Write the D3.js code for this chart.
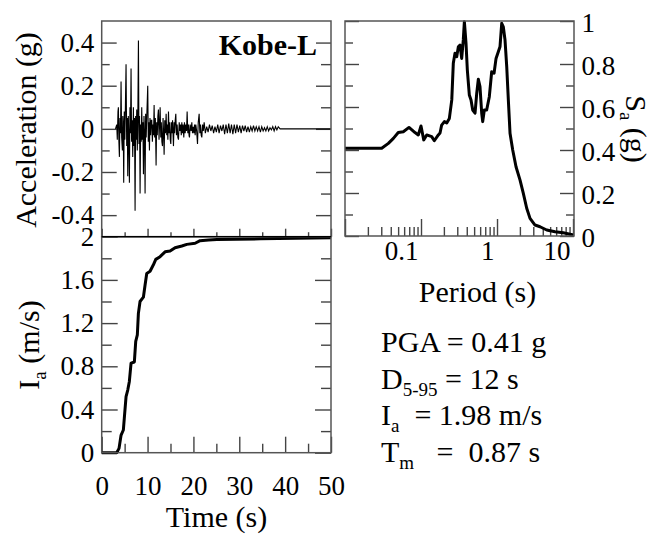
<!DOCTYPE html>
<html>
<head>
<meta charset="utf-8">
<script src="https://cdn.jsdelivr.net/npm/d3@7"></script>
<style>
  body { margin: 0; background: #fff; }
  text { font-family: 'Liberation Serif', 'Times New Roman', serif; fill: #000; }
</style>
</head>
<body>
<div class="vis-container"></div>
<script>
// acceleration time history [time (s), acc (g)]
const accSeries = [
  [3.0, 0], [3.28, 0.02], [3.40, -0.05], [3.55, 0.08], [3.64, 0.10], [3.75, -0.06], [3.86, -0.13],
  [3.98, 0.05], [4.10, -0.02], [4.22, 0.22], [4.35, -0.04], [4.51, -0.10], [4.60, 0.06], [4.70, 0.02],
  [4.80, -0.25], [4.92, 0.08], [5.05, -0.05], [5.18, 0.12], [5.31, 0.30], [5.45, -0.08], [5.58, 0.05],
  [5.68, -0.22], [5.80, 0.06], [5.92, -0.03], [6.04, -0.25], [6.16, 0.10], [6.28, -0.02], [6.40, 0.28],
  [6.52, -0.06], [6.65, 0.04], [6.77, -0.13], [6.91, 0.10], [7.03, -0.08], [7.15, 0.05], [7.28, -0.38],
  [7.40, 0.06], [7.52, -0.05], [7.64, 0.09], [7.76, -0.10], [7.88, 0.05], [8.01, 0.41], [8.13, -0.07],
  [8.25, 0.06], [8.37, -0.30], [8.50, 0.02], [8.62, -0.06], [8.73, 0.10], [8.85, -0.05], [8.98, 0.03],
  [9.10, -0.21], [9.22, 0.06], [9.34, -0.02], [9.46, -0.30], [9.58, 0.07], [9.70, -0.04], [9.82, 0.05],
  [10.04, 0.20], [10.16, -0.06], [10.28, 0.03], [10.41, -0.10], [10.53, 0.05], [10.66, -0.03],
  [10.80, 0.04], [10.92, 0.04], [11.05, -0.06], [11.18, 0.02], [11.30, -0.03], [11.43, 0.11],
  [11.55, -0.04], [11.70, 0.05], [11.86, -0.17], [11.98, 0.03], [12.12, -0.03], [12.25, 0.06],
  [12.37, 0.09], [12.50, -0.05], [12.62, 0.02], [12.74, 0.10], [12.88, -0.04], [13.00, 0.03],
  [13.12, -0.06], [13.25, -0.08], [13.38, 0.05], [13.50, -0.02], [13.61, -0.12], [13.75, 0.04],
  [13.90, -0.02], [14.05, 0.07], [14.18, -0.03], [14.30, 0.02], [14.43, -0.05], [14.56, 0.08],
  [14.70, -0.02], [14.82, 0.03], [14.95, -0.05], [15.07, -0.07], [15.20, 0.03], [15.32, -0.02],
  [15.45, 0.04], [15.65, -0.08], [15.78, 0.03], [15.90, -0.02], [16.03, 0.04], [16.16, 0.07],
  [16.30, -0.03], [16.45, 0.02], [16.60, -0.04], [16.74, -0.05], [16.90, 0.03], [17.05, -0.01],
  [17.20, 0.02], [17.35, -0.03], [17.47, 0.03], [17.62, -0.02], [17.75, 0.02], [17.90, -0.04],
  [18.05, 0.03], [18.20, -0.02], [18.35, 0.02], [18.50, -0.01], [18.63, 0.08], [18.78, -0.02],
  [18.92, 0.02], [19.05, -0.03], [19.14, -0.04], [19.30, 0.02], [19.50, -0.01], [19.65, 0.03],
  [19.80, -0.02], [19.95, 0.01], [20.10, -0.02], [20.25, 0.02], [20.38, -0.03], [20.52, 0.02],
  [20.70, -0.01], [20.89, -0.07], [21.05, 0.03], [21.25, 0.07], [21.40, -0.02], [21.55, 0.02],
  [21.70, -0.03], [21.83, -0.04], [22.00, 0.02], [22.15, -0.01], [22.34, 0.03], [22.6, -0.02],
  [22.9, 0.01], [23.2, -0.015], [23.5, 0.02], [23.8, -0.01], [24.1, 0.015], [24.4, -0.02],
  [24.7, 0.01], [25.0, -0.015], [25.3, 0.02], [25.6, -0.02], [25.9, 0.015], [26.2, -0.01],
  [26.5, 0.02], [26.8, -0.025], [27.1, 0.02], [27.4, -0.02], [27.7, 0.025], [28.0, -0.02],
  [28.3, 0.02], [28.6, -0.025], [28.9, 0.02], [29.2, -0.02], [29.5, 0.02], [29.8, -0.015],
  [30.1, 0.015], [30.4, -0.02], [30.7, 0.015], [31.0, -0.01], [31.3, 0.015], [31.6, -0.015],
  [31.9, 0.01], [32.2, -0.015], [32.5, 0.01], [32.8, -0.01], [33.1, 0.015], [33.4, -0.01],
  [33.7, 0.01], [34.0, -0.01], [34.3, 0.01], [34.6, -0.015], [34.9, 0.01], [35.2, -0.01],
  [35.5, 0.005], [35.8, -0.01], [36.1, 0.01], [36.4, -0.01], [36.7, 0.005], [37.0, -0.005],
  [37.3, 0.01], [37.6, -0.01], [37.9, 0.01], [38.2, -0.005], [38.5, 0.01], [38.9, 0], [50, 0]
];

// arias intensity [time (s), Ia (m/s)]
const ariasSeries = [
  [0, 0], [3.27, 0], [3.78, 0.04], [4.21, 0.16], [4.72, 0.21], [4.93, 0.32], [5.31, 0.52],
  [5.68, 0.58], [6.03, 0.66], [6.40, 0.83], [7.12, 0.84], [7.42, 1.03], [7.77, 1.09], [8.0, 1.29],
  [8.36, 1.40], [9.09, 1.44], [9.45, 1.55], [9.82, 1.66], [10.55, 1.68], [11.27, 1.74], [11.79, 1.79],
  [12.73, 1.815], [13.82, 1.86], [14.91, 1.867], [16.0, 1.898], [17.47, 1.914], [18.56, 1.929],
  [20.37, 1.939], [21.46, 1.963], [23.3, 1.969], [25.1, 1.975], [34.6, 1.98], [50, 1.99]
];

// response spectrum [period (s), Sa (g)]
const spectrumSeries = [
  [0.01, 0.408], [0.0304, 0.408], [0.0372, 0.431], [0.0433, 0.454], [0.0502, 0.481], [0.0585, 0.485],
  [0.0695, 0.505], [0.0834, 0.481], [0.0921, 0.470], [0.1, 0.512], [0.1086, 0.447], [0.1189, 0.470],
  [0.1383, 0.462], [0.1496, 0.443], [0.169, 0.470], [0.178, 0.479], [0.187, 0.516], [0.203, 0.532],
  [0.218, 0.526], [0.236, 0.547], [0.254, 0.633], [0.266, 0.803], [0.280, 0.850], [0.295, 0.834],
  [0.310, 0.880], [0.326, 0.888], [0.343, 0.826], [0.360, 0.912], [0.372, 0.997], [0.391, 0.896],
  [0.407, 0.772], [0.432, 0.656], [0.455, 0.633], [0.479, 0.586], [0.514, 0.571], [0.541, 0.664],
  [0.568, 0.729], [0.597, 0.695], [0.629, 0.571], [0.648, 0.532], [0.681, 0.586], [0.731, 0.586],
  [0.792, 0.648], [0.851, 0.764], [0.914, 0.757], [0.971, 0.826], [1.04, 0.857], [1.094, 0.880],
  [1.153, 0.989], [1.21, 0.973], [1.274, 0.912], [1.342, 0.788], [1.409, 0.633], [1.483, 0.478],
  [1.609, 0.400], [1.778, 0.322], [2.009, 0.260], [2.219, 0.198], [2.459, 0.129], [2.718, 0.082],
  [3.162, 0.051], [3.68, 0.043], [4.51, 0.028], [5.80, 0.020], [7.45, 0.015], [10.1, 0.005]
];

const timeMajor = [0, 10, 20, 30, 40, 50];
const timeMinor = [5, 15, 25, 35, 45];
const accMajor = [-0.4, -0.2, 0, 0.2, 0.4];
const accMinor = [-0.3, -0.1, 0.1, 0.3];
const iaMajor = [0, 0.4, 0.8, 1.2, 1.6, 2];
const iaMinor = [0.2, 0.6, 1.0, 1.4, 1.8];
const saMajor = [0, 0.2, 0.4, 0.6, 0.8, 1];
const saMinor = [0.1, 0.3, 0.5, 0.7, 0.9];
const periodMajor = [0.01, 0.1, 1, 10];
const periodMinor = [0.02, 0.03, 0.04, 0.05, 0.06, 0.07, 0.08, 0.09,
  0.2, 0.3, 0.4, 0.5, 0.6, 0.7, 0.8, 0.9, 2, 3, 4, 5, 6, 7, 8, 9];
const periodLabels = [0.1, 1, 10];

const infoLines = [
  {main: 'PGA = 0.41 g', sub: '', rest: ''},
  {main: 'D', sub: '5-95', rest: ' = 12 s'},
  {main: 'I', sub: 'a', rest: '  = 1.98 m/s'},
  {main: 'T', sub: 'm', rest: '   =  0.87 s'}
];

document.addEventListener('DOMContentLoaded', () => {
  buildFigure();
});

function buildFigure() {
  const width = 654;
  const height = 536;
  const svg = d3.select('.vis-container').append('svg')
    .attr('width', width)
    .attr('height', height);

  const left = 101.7, right = 331, top = 21, mid = 236.7, bottom = 452.7;
  const sLeft = 345, sRight = 574, sTop = 21, sBottom = 236;

  const xTime = d3.scaleLinear().domain([0, 50]).range([left, right]);
  const yAcc = d3.scaleLinear().domain([-0.5, 0.5]).range([mid, top]);
  const yIa = d3.scaleLinear().domain([0, 2]).range([bottom, mid]);
  const xPer = d3.scaleLog().domain([0.01, 10.3]).range([sLeft, sRight]);
  const ySa = d3.scaleLinear().domain([0, 1]).range([sBottom, sTop]);

  function ticks(axisFn, scale, values, len, tx, ty) {
    const g = svg.append('g')
      .attr('transform', `translate(${tx}, ${ty})`)
      .call(axisFn(scale).tickValues(values).tickSize(-len).tickFormat(''));
    g.select('.domain').remove();
    g.selectAll('line').attr('stroke', '#444').attr('stroke-width', 1.4);
    return g;
  }

  function labels(axisFn, scale, values, pad, tx, ty) {
    const g = svg.append('g')
      .attr('transform', `translate(${tx}, ${ty})`)
      .call(axisFn(scale).tickValues(values).tickSize(0).tickPadding(pad).tickFormat(d => String(d)));
    g.select('.domain').remove();
    g.attr('font-size', 27).attr('font-family', "'Liberation Serif', 'Times New Roman', serif");
    g.selectAll('text').attr('fill', '#000');
    return g;
  }

  // ---- top left: acceleration ----
  ticks(d3.axisLeft, yAcc, accMajor, 15, left, 0);
  ticks(d3.axisLeft, yAcc, accMinor, 8, left, 0);
  ticks(d3.axisRight, yAcc, accMajor, 15, right, 0);
  ticks(d3.axisRight, yAcc, accMinor, 10, right, 0);
  ticks(d3.axisBottom, xTime, timeMajor, 8, 0, mid);
  ticks(d3.axisBottom, xTime, timeMinor, 4.5, 0, mid);
  labels(d3.axisLeft, yAcc, accMajor, 7.5, left, 0);

  const accLine = d3.line().x(d => xTime(d[0])).y(d => yAcc(d[1]));
  svg.append('path')
    .datum(accSeries)
    .attr('d', accLine)
    .attr('fill', 'none')
    .attr('stroke', '#000')
    .attr('stroke-width', 1.1);

  svg.append('rect')
    .attr('x', left).attr('y', top)
    .attr('width', right - left).attr('height', mid - top)
    .attr('fill', 'none').attr('stroke', '#555').attr('stroke-width', 1.5);

  svg.append('text')
    .attr('x', 317).attr('y', 55)
    .attr('text-anchor', 'end')
    .attr('font-size', 30)
    .attr('font-weight', 'bold')
    .text('Kobe-L');

  svg.append('text')
    .attr('transform', 'translate(36, 130) rotate(-90)')
    .attr('text-anchor', 'middle')
    .attr('font-size', 30)
    .text('Acceleration (g)');

  // ---- bottom left: arias intensity ----
  ticks(d3.axisLeft, yIa, iaMajor, 16, left, 0);
  ticks(d3.axisLeft, yIa, iaMinor, 10, left, 0);
  ticks(d3.axisRight, yIa, iaMajor, 16, right, 0);
  ticks(d3.axisRight, yIa, iaMinor, 10, right, 0);
  ticks(d3.axisBottom, xTime, timeMajor, 16, 0, bottom);
  ticks(d3.axisBottom, xTime, timeMinor, 9, 0, bottom);
  labels(d3.axisLeft, yIa, iaMajor, 7.5, left, 0);
  labels(d3.axisBottom, xTime, timeMajor, 23, 0, bottom);

  const iaLine = d3.line().x(d => xTime(d[0])).y(d => yIa(d[1]));
  svg.append('path')
    .datum(ariasSeries)
    .attr('d', iaLine)
    .attr('fill', 'none')
    .attr('stroke', '#000')
    .attr('stroke-width', 3)
    .attr('stroke-linejoin', 'round');

  svg.append('rect')
    .attr('x', left).attr('y', mid)
    .attr('width', right - left).attr('height', bottom - mid)
    .attr('fill', 'none').attr('stroke', '#555').attr('stroke-width', 1.5);
  svg.append('line')
    .attr('x1', left).attr('x2', right).attr('y1', mid).attr('y2', mid)
    .attr('stroke', '#000').attr('stroke-width', 1.3);

  const iaLabel = svg.append('text')
    .attr('transform', 'translate(38.5, 345) rotate(-90)')
    .attr('text-anchor', 'middle')
    .attr('font-size', 30);
  iaLabel.append('tspan').text('I');
  iaLabel.append('tspan').attr('font-size', 19).attr('dy', 7).text('a');
  iaLabel.append('tspan').attr('dy', -7).text(' (m/s)');

  svg.append('text')
    .attr('x', 216.5).attr('y', 527)
    .attr('text-anchor', 'middle')
    .attr('font-size', 30)
    .text('Time (s)');

  // ---- top right: response spectrum ----
  ticks(d3.axisLeft, ySa, saMajor, 14, sLeft, 0);
  ticks(d3.axisLeft, ySa, saMinor, 8, sLeft, 0);
  ticks(d3.axisRight, ySa, saMajor, 14, sRight, 0);
  ticks(d3.axisRight, ySa, saMinor, 8, sRight, 0);
  ticks(d3.axisBottom, xPer, periodMajor, 17, 0, sBottom);
  ticks(d3.axisBottom, xPer, periodMinor, 9, 0, sBottom);
  labels(d3.axisRight, ySa, saMajor, 7.5, sRight, 1.5);
  labels(d3.axisBottom, xPer, periodLabels, 5, 0, sBottom)
    .selectAll('text')
      .attr('text-anchor', 'end')
      .attr('x', -3);

  const saLine = d3.line().x(d => xPer(d[0])).y(d => ySa(d[1]));
  svg.append('path')
    .datum(spectrumSeries)
    .attr('d', saLine)
    .attr('fill', 'none')
    .attr('stroke', '#000')
    .attr('stroke-width', 3)
    .attr('stroke-linejoin', 'round');

  svg.append('rect')
    .attr('x', sLeft).attr('y', sTop)
    .attr('width', sRight - sLeft).attr('height', sBottom - sTop)
    .attr('fill', 'none').attr('stroke', '#555').attr('stroke-width', 1.5);

  const saLabel = svg.append('text')
    .attr('transform', 'translate(626, 129) rotate(90)')
    .attr('text-anchor', 'middle')
    .attr('font-size', 30);
  saLabel.append('tspan').text('S');
  saLabel.append('tspan').attr('font-size', 19).attr('dy', 6).text('a');
  saLabel.append('tspan').attr('dy', -6).text(' (g)');

  svg.append('text')
    .attr('x', 477.5).attr('y', 302)
    .attr('text-anchor', 'middle')
    .attr('font-size', 30)
    .text('Period (s)');

  // ---- summary text ----
  const info = svg.append('g');
  infoLines.forEach((line, i) => {
    const t = info.append('text')
      .attr('x', 381)
      .attr('y', 352 + i * 36.7)
      .attr('font-size', 30)
      .style('white-space', 'pre');
    t.append('tspan').text(line.main);
    if (line.sub) {
      t.append('tspan').attr('font-size', 19).attr('dy', 7).text(line.sub);
      t.append('tspan').attr('dy', -7).text(line.rest);
    }
  });
}
</script>
</body>
</html>
